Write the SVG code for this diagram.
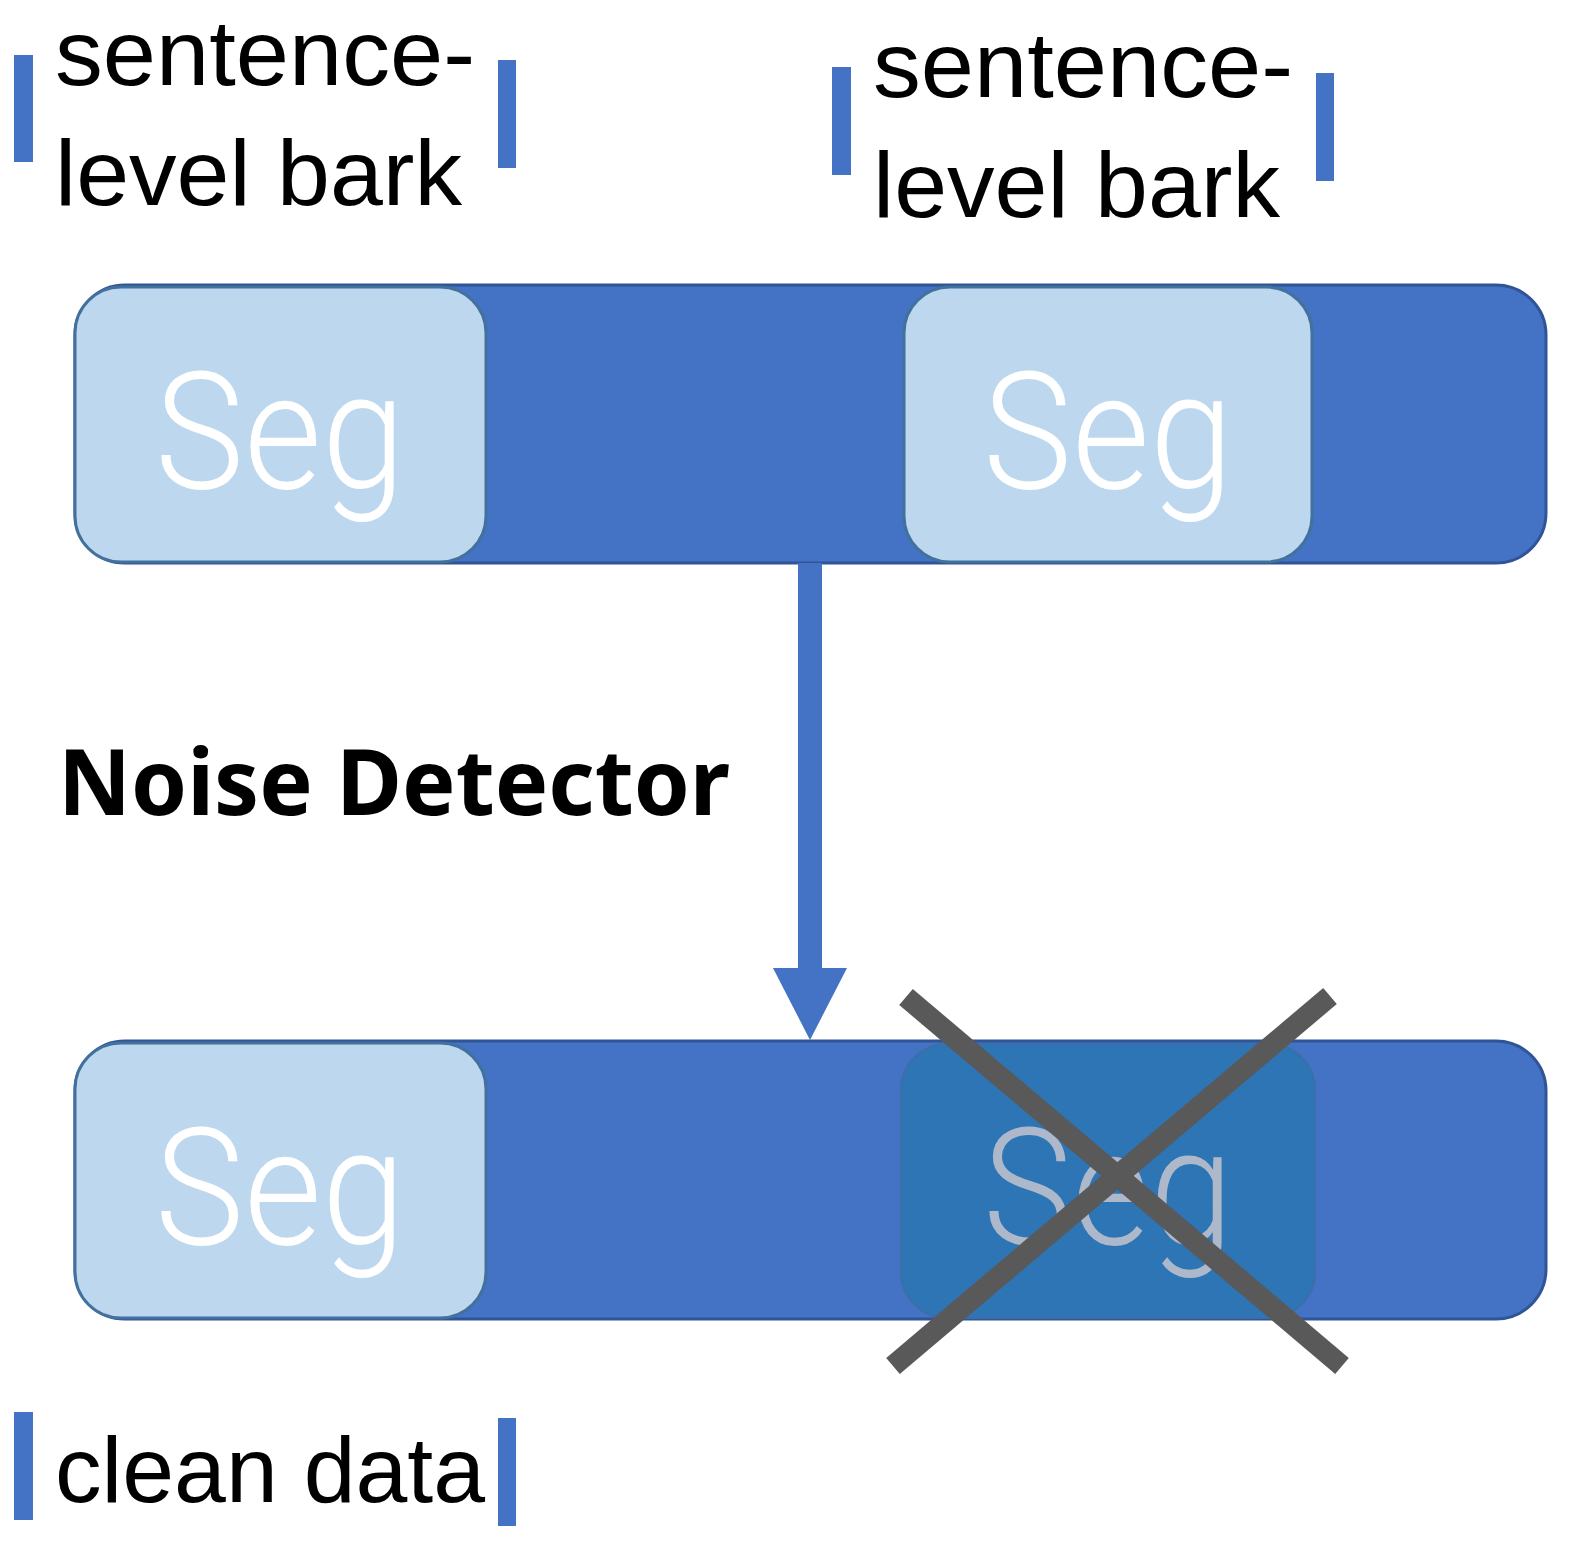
<svg xmlns="http://www.w3.org/2000/svg" width="1573" height="1545" viewBox="0 0 1573 1545">
<style>
.bar{fill:#4472C4;stroke:#2F5597;stroke-width:3}
.seg{fill:#BDD7EE;stroke:#41719C;stroke-width:3}
.segx{fill:#2E75B6;stroke:#3A6FA8;stroke-width:2}
.segt{font-family:Roboto,"Noto Sans",sans-serif;font-weight:300;font-size:164px;fill:#FFFFFF;text-anchor:middle}
.lbl{font-family:"Liberation Sans","Noto Sans",sans-serif;font-size:93px;fill:#000}
.tick{fill:#4472C4}
.cross{stroke:#595959;stroke-width:21;fill:none}
</style>
<rect width="1573" height="1545" fill="#FFFFFF"/>
<g id="label-top-left">
<rect class="tick" x="14" y="55" width="19" height="107"/>
<rect class="tick" x="498" y="60" width="18" height="108"/>
<text class="lbl" x="55" y="85" textLength="420" lengthAdjust="spacingAndGlyphs">sentence-</text>
<text class="lbl" x="55" y="205" textLength="407" lengthAdjust="spacingAndGlyphs">level bark</text>
</g>
<g id="label-top-right">
<rect class="tick" x="832" y="67" width="19" height="108"/>
<rect class="tick" x="1316" y="73" width="18" height="108"/>
<text class="lbl" x="873" y="97" textLength="420" lengthAdjust="spacingAndGlyphs">sentence-</text>
<text class="lbl" x="873" y="217" textLength="407" lengthAdjust="spacingAndGlyphs">level bark</text>
</g>
<g id="top-row">
<rect class="bar" x="75" y="285" width="1471" height="278" rx="50"/>
<rect class="seg" x="75" y="287" width="411" height="275" rx="46"/>
<text class="segt" x="280" y="488" textLength="250" lengthAdjust="spacingAndGlyphs">Seg</text>
<rect class="seg" x="904" y="287" width="408" height="275" rx="46"/>
<text class="segt" x="1108" y="488" textLength="250" lengthAdjust="spacingAndGlyphs">Seg</text>
</g>
<g id="connectors">
<rect x="798" y="563" width="24" height="408" fill="#4472C4"/>
<polygon points="773,968 847,968 810,1040" fill="#4472C4"/>
</g>
<g id="label-noise">
<text x="58" y="815" font-family="Noto Sans, Liberation Sans, sans-serif" font-weight="bold" font-size="92" fill="#000" textLength="672" lengthAdjust="spacingAndGlyphs">Noise Detector</text>
</g>
<g id="bottom-row">
<rect class="bar" x="75" y="1041" width="1471" height="278" rx="50"/>
<rect class="seg" x="75" y="1043" width="411" height="275" rx="46"/>
<text class="segt" x="280" y="1244" textLength="250" lengthAdjust="spacingAndGlyphs">Seg</text>
<rect class="segx" x="901" y="1044" width="414" height="274" rx="46"/>
<text class="segt" x="1108" y="1244" textLength="250" lengthAdjust="spacingAndGlyphs" style="fill:#ADB9CA">Seg</text>
</g>
<g id="cross">
<line class="cross" x1="906" y1="997" x2="1342" y2="1366"/>
<line class="cross" x1="1330" y1="996" x2="893" y2="1366"/>
</g>
<g id="label-clean">
<rect class="tick" x="14" y="1412" width="19" height="108"/>
<rect class="tick" x="498" y="1418" width="18" height="108"/>
<text class="lbl" x="55" y="1502" textLength="430" lengthAdjust="spacingAndGlyphs">clean data</text>
</g>
</svg>
